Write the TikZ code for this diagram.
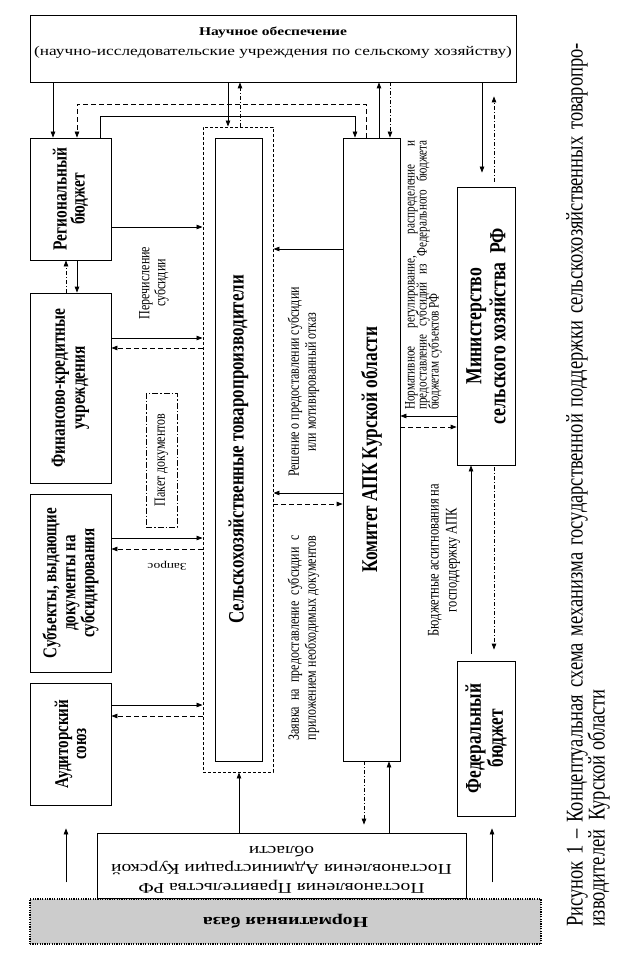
\documentclass[tikz,border=0pt]{standalone}
\usepackage{graphicx}
\usepackage{fontspec}
\setmainfont{Liberation Serif}
\usetikzlibrary{arrows.meta,calc}
\newcommand\myfs[2]{\fontsize{#1}{#2}\selectfont}
\newcommand\sqz[1]{\scalebox{1}[0.77]{#1}}
\newcommand\cstack[1]{\vbox{\lineskiplimit=-100pt\lineskip=0pt\let\\\cr\halign{\hfil##\hfil\cr#1\crcr}}}
\newcommand\lstack[1]{\vbox{\lineskiplimit=-100pt\lineskip=0pt\let\\\cr\halign{##\hfil\cr#1\crcr}}}
\newcommand\myrot[1]{\sqz{\rotatebox{90}{\cstack{#1}}}}
\newcommand\myrotl[1]{\sqz{\rotatebox{90}{\lstack{#1}}}}
\tikzset{
  box/.style={draw, line width=0.8pt, inner sep=0pt},
  arr/.style={line width=0.8pt, -{Triangle[length=6pt,width=4.5pt]}},
  darr/.style={arr, dash pattern=on 5pt off 3pt},
  dd/.style={arr, dash pattern=on 4pt off 2pt on 1pt off 2pt},
  lbl/.style={inner sep=0pt, font=\myfs{15.6}{16}}
}
\begin{document}
\begin{tikzpicture}[x=1pt,y=-1pt]
\fill[white] (0,0) rectangle (632,960);
\path[use as bounding box] (0,0) rectangle (632,960);

% boxes
\node[box,minimum width=486pt,minimum height=67pt] (nauka) at (273,48.5) {};
\node[lbl,font=\myfs{17.3}{26}] (naukat) at (273,42.5)
  {\sqz{\cstack{\textbf{\myfs{15.5}{26}Научное обеспечение}\\(научно-исследовательские учреждения по сельскому хозяйству)}}};

\node[box,minimum width=81pt,minimum height=122pt,font=\myfs{20}{18}\bfseries] (reg) at (70.5,199) {\myrot{Региональный\\бюджет}};
\node[box,minimum width=81pt,minimum height=190pt,font=\myfs{20}{20}\bfseries] (fin) at (70.5,388) {\myrot{Финансово-кредитные\\учреждения}};
\node[box,minimum width=81pt,minimum height=178pt,font=\myfs{19.5}{19}\bfseries] (subj) at (70.5,583) {\myrot{Субъекты, выдающие\\документы на\\субсидирования}};
\node[box,minimum width=81pt,minimum height=122pt,font=\myfs{19.5}{18}\bfseries] (aud) at (70.5,744) {\myrot{Аудиторский\\союз}};

\node[box,dash pattern=on 3pt off 2pt,line width=0.9pt,minimum width=70pt,minimum height=645pt] (outer) at (238,449.5) {};
\node[box,minimum width=47pt,minimum height=623pt,font=\myfs{22}{22}\bfseries] (inner) at (238.5,449.5) {\myrot{Сельскохозяйственные товаропроизводители}};

\node[box,minimum width=57pt,minimum height=623pt,font=\myfs{22.5}{22}\bfseries] (kom) at (371.5,449.5) {\myrot{Комитет АПК Курской области}};

\node[box,minimum width=58pt,minimum height=278pt,font=\myfs{23}{24}\bfseries] (min) at (486,326) {\myrot{Министерство\\сельского хозяйства~~РФ}};
\node[box,minimum width=58pt,minimum height=155pt,font=\myfs{22.5}{22}\bfseries] (fed) at (486,738.5) {\myrot{Федеральный\\бюджет}};

\node[box,minimum width=369pt,minimum height=65pt] (post) at (281.5,865.5) {};
\node[lbl,font=\myfs{19.5}{24}] (postt) at (281.5,869.5)
  {\sqz{\rotatebox{180}{\cstack{Постановления Правительства РФ\\Постановления Администрации Курской\\области}}}};

\node[box,fill=black!20,line width=1.2pt,dash pattern=on 1.2pt off 1.2pt,minimum width=511pt,minimum height=45pt,font=\myfs{19.8}{20}\bfseries] (norm) at (285.5,921.5) {\sqz{\rotatebox{180}{Нормативная база}}};

\node[box,dash pattern=on 6pt off 2pt on 1.5pt off 2pt,minimum width=31pt,minimum height=134pt,font=\myfs{15.6}{16}] (paket) at (161.5,460) {\myrot{Пакет документов}};

% labels
\node[lbl] (perech) at (154,283) {\myrot{Перечисление\\субсидии}};
\node[lbl,font=\myfs{15.6}{17}] (resh) at (303.5,382) {\myrot{Решение о предоставлении субсидии\\или мотивированный отказ}};
\node[lbl,font=\myfs{15.6}{17}] (zayav) at (303.5,638)
  {\myrotl{\makebox[266pt][s]{Заявка на предоставление субсидии с}\\\makebox[266pt][s]{приложением необходимых документов}}};
\node[lbl,font=\myfs{13.4}{14}] (zapros) at (167,566) {\sqz{\rotatebox{180}{Запрос}}};
\node[lbl,font=\myfs{14.5}{12}] (normreg) at (423.5,275)
  {\myrotl{\makebox[350pt][s]{Нормативное регулирование, распределение и}\\\makebox[350pt][s]{предоставление субсидий из Федерального бюджета}\\бюджетам субъектов РФ}};
\node[lbl,font=\myfs{16.2}{18}] (budzh) at (444,560) {\myrot{Бюджетные ассигнования на\\господдержку АПК}};
\node[lbl,font=\myfs{24}{22}] (capt) at (588,485)
  {\myrotl{\makebox[1148pt][s]{Рисунок 1 – Концептуальная схема механизма государственной поддержки сельскохозяйственных товаропро-}\\изводителей~~Курской области}};

% connectors top
\draw[arr] (nauka.south -| 53,0) -- (reg.north -| 53,0);
\draw[darr] (kom.north -| 366,0) -- (366,104) -- (77,104) -- (reg.north -| 77,0);
\draw[arr] (reg.north -| 100,0) -- (100,116) -- (355,116) -- (kom.north -| 355,0);
\draw[arr] (nauka.south -| 228,0) -- (outer.north -| 228,0);
\draw[dd] (outer.north -| 240,0) -- (nauka.south -| 240,0);
\draw[arr] (kom.north -| 379,0) -- (nauka.south -| 379,0);
\draw[dd] (nauka.south -| 390,0) -- (kom.north -| 390,0);
\draw[arr,shorten >=14pt] (nauka.south -| 482,0) -- (min.north -| 482,0);
\draw[dd,shorten >=14pt,shorten <=5pt] (min.north -| 494,0) -- (nauka.south -| 494,0);

% left column
\draw[dd] (fin.north -| 66,0) -- (reg.south -| 66,0);
\draw[arr] (reg.south -| 77,0) -- (fin.north -| 77,0);
\draw[arr] (reg.east |- 0,227) -- (outer.west |- 0,227);
\draw[arr] (fin.east |- 0,338) -- (outer.west |- 0,338);
\draw[darr] (outer.west |- 0,348) -- (fin.east |- 0,348);
\draw[arr] (subj.east |- 0,538) -- (outer.west |- 0,538);
\draw[darr] (outer.west |- 0,549) -- (subj.east |- 0,549);
\draw[arr] (aud.east |- 0,705) -- (outer.west |- 0,705);
\draw[darr] (outer.west |- 0,716) -- (aud.east |- 0,716);

% komitet
\draw[arr] (kom.west |- 0,249) -- (outer.east |- 0,249);
\draw[arr] (kom.west |- 0,493) -- (outer.east |- 0,493);
\draw[darr] (outer.east |- 0,504) -- (kom.west |- 0,504);
\draw[arr] (min.west |- 0,416) -- (kom.east |- 0,416);
\draw[darr] (kom.east |- 0,427) -- (min.west |- 0,427);

% ministry / federal
\draw[arr,shorten <=7pt] (fed.north -| 471,0) -- (min.south -| 471,0);
\draw[dd,shorten >=11pt,shorten <=2pt] (min.south -| 494,0) -- (fed.north -| 494,0);

% bottom
\draw[arr] (post.north -| 239,0) -- (outer.south -| 239,0);
\draw[dd,shorten >=8pt] (kom.south -| 364,0) -- (post.north -| 364,0);
\draw[arr] (post.north -| 389,0) -- (kom.south -| 389,0);
\draw[arr,shorten <=16pt,shorten >=23pt] (norm.north -| 66,0) -- (aud.south -| 66,0);
\draw[arr,shorten <=16pt,shorten >=12pt] (norm.north -| 492,0) -- (fed.south -| 492,0);
\end{tikzpicture}
\end{document}
